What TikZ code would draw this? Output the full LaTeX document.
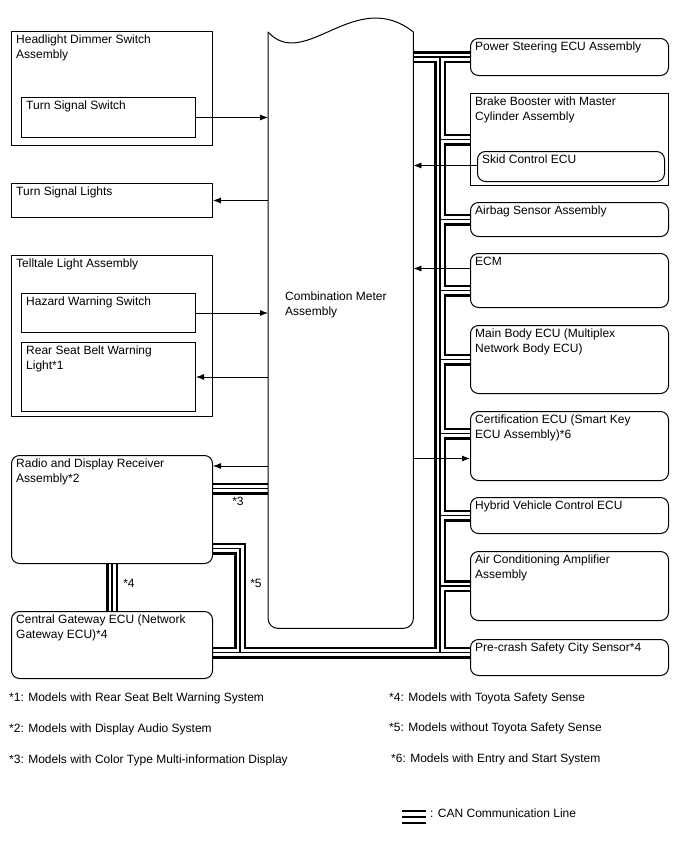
\documentclass[tikz,border=0pt]{standalone}
\usepackage{fontspec}
\setmainfont{Liberation Sans}
\usetikzlibrary{arrows.meta, backgrounds}

% all CAN runs, drawn three times (outer, gap, core)
\newcommand{\canpaths}{%
  (mtr.east |- ps.west) -- (ps.west)
  (trk |- ps.west) -- (trk |- pcx)
  (trk |- bb.west) -- (bb.west)
  (trk |- ab.west) -- (ab.west)
  (trk |- ecx) -- (ecx)
  (trk |- mb.west) -- (mb.west)
  (trk |- cex) -- (cex)
  (trk |- hv.west) -- (hv.west)
  (trk |- ac.west) -- (ac.west)
  (gwx) -- (pcx)
  (ra5) -- (ra5 -| c5) -- (c5 |- gwx)
  (ra3) -- (ra3 -| mtr.west)
  (ra.south) -- (gw.north)
}

\begin{document}
\begin{tikzpicture}[x=1pt, y=-1pt,
    every node/.style={font=\fontsize{12}{14.5}\selectfont},
    box/.style={draw, line width=1pt, anchor=north west, inner sep=0pt},
    rbox/.style={box, rounded corners=8pt},
    lbl/.style={anchor=north west, inner sep=0pt, xshift=5pt, yshift=-4pt, align=left},
    arr/.style={-{Latex[length=8pt, width=6pt]}, line width=0.8pt},
    note/.style={anchor=west, inner sep=0pt}
]
    \useasboundingbox (0,0) rectangle (688,852);

    % Combination meter
    \node[minimum width=145pt, minimum height=596pt, anchor=north west, inner sep=0pt] (mtr) at (268,32) {};
    \draw[line width=1pt, rounded corners=10pt] (mtr.north east) -- (mtr.south east) -- (mtr.south west) -- (mtr.north west);
    \draw[line width=1pt, line cap=round] (mtr.north west) .. controls (305,72) and (355,-14) .. (mtr.north east);
    \node[anchor=west, align=left, inner sep=0pt] (mtrtxt) at (285,305) {Combination Meter\\Assembly};

    % Left column
    \node[box, minimum width=201pt, minimum height=114pt, label={[lbl]north west:{Headlight Dimmer Switch\\Assembly}}] (hds) at (11,31) {};
    \node[box, minimum width=174pt, minimum height=40pt, label={[lbl]north west:Turn Signal Switch}] (tss) at (21,97) {};
    \node[box, minimum width=201pt, minimum height=34pt, label={[lbl]north west:Turn Signal Lights}] (tsl) at (11,183) {};
    \node[box, minimum width=201pt, minimum height=161pt, label={[lbl]north west:Telltale Light Assembly}] (tla) at (11,255) {};
    \node[box, minimum width=174pt, minimum height=39pt, label={[lbl]north west:Hazard Warning Switch}] (hws) at (21,293) {};
    \node[box, minimum width=174pt, minimum height=69pt, label={[lbl]north west:{Rear Seat Belt Warning\\Light*1}}] (rsb) at (21,342) {};
    \node[rbox, minimum width=201pt, minimum height=108pt, label={[lbl]north west:{Radio and Display Receiver\\Assembly*2}}] (ra) at (11,455) {};
    \node[rbox, minimum width=201pt, minimum height=67pt, label={[lbl]north west:{Central Gateway ECU (Network\\Gateway ECU)*4}}] (gw) at (11,611) {};

    % Right column
    \node[rbox, minimum width=198pt, minimum height=37pt, label={[lbl]north west:Power Steering ECU Assembly}] (ps) at (470,38) {};
    \node[box, minimum width=198pt, minimum height=92pt, label={[lbl]north west:{Brake Booster with Master\\Cylinder Assembly}}] (bb) at (470,93) {};
    \node[rbox, minimum width=187pt, minimum height=30pt, label={[lbl]north west:Skid Control ECU}] (sk) at (477,151) {};
    \node[rbox, minimum width=198pt, minimum height=34pt, label={[lbl]north west:Airbag Sensor Assembly}] (ab) at (470,202) {};
    \node[rbox, minimum width=198pt, minimum height=54pt, label={[lbl]north west:ECM}] (ecm) at (470,253) {};
    \node[rbox, minimum width=198pt, minimum height=68pt, label={[lbl]north west:{Main Body ECU (Multiplex\\Network Body ECU)}}] (mb) at (470,325) {};
    \node[rbox, minimum width=198pt, minimum height=69pt, label={[lbl]north west:{Certification ECU (Smart Key\\ECU Assembly)*6}}] (ce) at (470,411) {};
    \node[rbox, minimum width=198pt, minimum height=36pt, label={[lbl]north west:Hybrid Vehicle Control ECU}] (hv) at (470,497) {};
    \node[rbox, minimum width=198pt, minimum height=69pt, label={[lbl]north west:{Air Conditioning Amplifier\\Assembly}}] (ac) at (470,551) {};
    \node[rbox, minimum width=198pt, minimum height=36pt, label={[lbl]north west:Pre-crash Safety City Sensor*4}] (pc) at (470,639) {};

    % CAN bus points
    \coordinate (trk) at (440,0);
    \coordinate (c5) at (240,0);
    \coordinate (ecx) at ([yshift=-10pt]ecm.west);
    \coordinate (cex) at ([yshift=12.5pt]ce.west);
    \coordinate (pcx) at ([yshift=5pt]pc.west);
    \coordinate (gwx) at (gw.east |- pcx);
    \coordinate (ra3) at ([yshift=21pt]ra.east);
    \coordinate (ra5) at ([yshift=-39pt]ra.east);

    \begin{scope}[on background layer]
        \draw[line width=12pt] \canpaths;
        \draw[white, line width=7pt] \canpaths;
        \draw[line width=1.3pt] \canpaths;
    \end{scope}

    % Signal lines
    \draw[arr] (tss.east) -- (tss.east -| mtr.west);
    \draw[arr] (tsl.east -| mtr.west) -- (tsl.east);
    \draw[arr] (hws.east) -- (hws.east -| mtr.west);
    \draw[arr] (rsb.east -| mtr.west) -- (rsb.east);
    \coordinate (raa) at ([yshift=-11pt]ra.north east);
    \draw[arr] (raa -| mtr.west) -- (raa);
    \coordinate (ska) at ([yshift=1pt]sk.west);
    \draw[arr] (ska) -- (ska -| mtr.east);
    \coordinate (eca) at ([yshift=12pt]ecm.west);
    \draw[arr] (eca) -- (eca -| mtr.east);
    \coordinate (cea) at ([yshift=-12.5pt]ce.west);
    \draw[arr] (cea -| mtr.east) -- (cea);

    % bus notes
    \node[inner sep=0pt] (n3) at (238,501) {*3};
    \node[inner sep=0pt] (n4) at (129,583) {*4};
    \node[inner sep=0pt] (n5) at (256,583) {*5};

    % Footnotes
    \node[note] (fn1) at (9,698) {*1: Models with Rear Seat Belt Warning System};
    \node[note] (fn2) at (9,729) {*2: Models with Display Audio System};
    \node[note] (fn3) at (9,760) {*3: Models with Color Type Multi-information Display};
    \node[note] (fn4) at (389,698) {*4: Models with Toyota Safety Sense};
    \node[note] (fn5) at (389,728) {*5: Models without Toyota Safety Sense};
    \node[note] (fn6) at (391,759) {*6: Models with Entry and Start System};

    % Legend
    \foreach \y/\w in {811/1.8, 817/2, 823/2.3}
        \draw[line width=\w pt] (402,\y) -- (426,\y);
    \node[note] (leg) at (430,813) {: CAN Communication Line};
\end{tikzpicture}
\end{document}
